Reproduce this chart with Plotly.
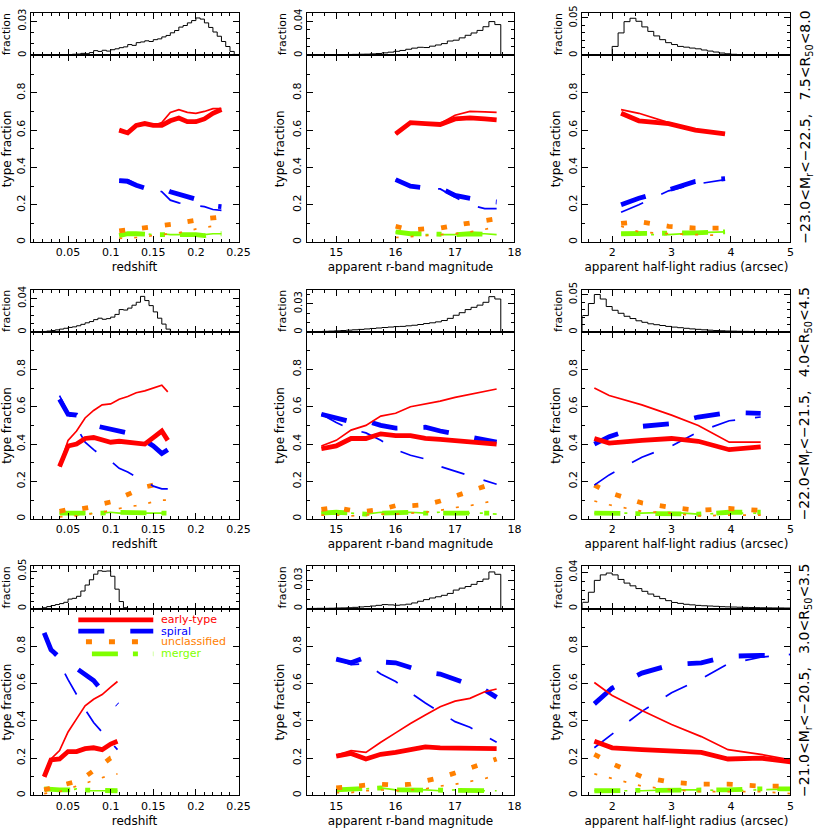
import plotly.graph_objects as go

W, H = 830, 831
FONT = "DejaVu Sans"

# ---------------- histogram data (fraction per bin) ----------------
# redshift histograms: start edge, bin width, values
hz1_lo, hz1_w = 0.040, 0.005
hz1 = [0.0003, 0.0005, 0.0008, 0.0010, 0.0012, 0.0018, 0.0015, 0.0025, 0.0042, 0.0035,
       0.0045, 0.0038, 0.0050, 0.0058, 0.0068, 0.0075, 0.0095, 0.0088, 0.0112, 0.0118,
       0.0128, 0.0122, 0.0138, 0.0145, 0.0162, 0.0175, 0.0198, 0.0218, 0.0248, 0.0262,
       0.0285, 0.0305, 0.0328, 0.0318, 0.0285, 0.0245, 0.0205, 0.0168, 0.0122, 0.0078,
       0.0035, 0.0008]
hz2_lo, hz2_w = 0.010, 0.005
hz2 = [0.0001, 0.0003, 0.0007, 0.0012, 0.0018, 0.0026, 0.0035, 0.0045, 0.0055, 0.0062,
       0.0075, 0.0092, 0.0110, 0.0125, 0.0148, 0.0165, 0.0152, 0.0160, 0.0178, 0.0210,
       0.0268, 0.0262, 0.0285, 0.0320, 0.0355, 0.0425, 0.0375, 0.0315, 0.0240, 0.0165,
       0.0095, 0.0035, 0.0005]
hz3_lo, hz3_w = 0.015, 0.005
hz3 = [0.0003, 0.0012, 0.0028, 0.0042, 0.0055, 0.0068, 0.0085, 0.0128, 0.0138, 0.0165,
       0.0235, 0.0315, 0.0385, 0.0460, 0.0505, 0.0498, 0.0502, 0.0432, 0.0260, 0.0095,
       0.0012]

# magnitude histograms
hm_lo, hm_w = 14.47, 0.1
hm1 = [0.0003, 0.0004, 0.0005, 0.0006, 0.0007, 0.0008, 0.0010, 0.0011, 0.0012, 0.0014,
       0.0015, 0.0018, 0.0022, 0.0030, 0.0038, 0.0048, 0.0058, 0.0072, 0.0085, 0.0095,
       0.0092, 0.0108, 0.0122, 0.0138, 0.0168, 0.0178, 0.0205, 0.0235, 0.0262, 0.0292,
       0.0335, 0.0395, 0.0360]
hm2 = [0.0003, 0.0004, 0.0006, 0.0008, 0.0010, 0.0013, 0.0016, 0.0020, 0.0024, 0.0028,
       0.0033, 0.0038, 0.0043, 0.0048, 0.0053, 0.0058, 0.0060, 0.0066, 0.0072, 0.0080,
       0.0090, 0.0098, 0.0108, 0.0122, 0.0145, 0.0178, 0.0205, 0.0238, 0.0262, 0.0285,
       0.0315, 0.0375, 0.0350]
hm3 = [0.0002, 0.0003, 0.0004, 0.0004, 0.0005, 0.0007, 0.0008, 0.0010, 0.0014, 0.0018,
       0.0022, 0.0028, 0.0035, 0.0043, 0.0040, 0.0036, 0.0040, 0.0047, 0.0060, 0.0078,
       0.0095, 0.0112, 0.0125, 0.0140, 0.0160, 0.0195, 0.0215, 0.0232, 0.0255, 0.0285,
       0.0310, 0.0385, 0.0360]

# half-light radius histograms
hr_lo, hr_w = 1.5, 0.1
hr1 = [0, 0, 0, 0, 0, 0.0120, 0.0300, 0.0450, 0.0495, 0.0455, 0.0380, 0.0320, 0.0260,
       0.0210, 0.0170, 0.0145, 0.0120, 0.0110, 0.0098, 0.0088, 0.0072, 0.0058, 0.0045,
       0.0032, 0.0022, 0.0015, 0.0012, 0.0010, 0.0008, 0.0007, 0.0006, 0.0005, 0.0005,
       0.0004, 0.0004]
hr2 = [0.0220, 0.0380, 0.0500, 0.0440, 0.0340, 0.0290, 0.0250, 0.0210, 0.0180, 0.0150,
       0.0130, 0.0110, 0.0098, 0.0087, 0.0075, 0.0066, 0.0058, 0.0050, 0.0042, 0.0036,
       0.0030, 0.0025, 0.0020, 0.0017, 0.0014, 0.0012, 0.0010, 0.0009, 0.0008, 0.0007,
       0.0006, 0.0005, 0.0005, 0.0004, 0.0004]
hr3 = [0.0070, 0.0180, 0.0310, 0.0370, 0.0390, 0.0370, 0.0320, 0.0280, 0.0250, 0.0220,
       0.0190, 0.0160, 0.0135, 0.0110, 0.0088, 0.0068, 0.0058, 0.0048, 0.0042, 0.0036,
       0.0032, 0.0029, 0.0026, 0.0022, 0.0020, 0.0018, 0.0016, 0.0014, 0.0012, 0.0011,
       0.0010, 0.0009, 0.0008, 0.0008, 0.0007]

# ---------------- type-fraction curves ----------------
r1c1_x = [0.11, 0.12, 0.13, 0.14, 0.15, 0.16, 0.17, 0.18, 0.19, 0.20, 0.21, 0.22, 0.23]
r1c1_early_thick = [0.600, 0.585, 0.625, 0.635, 0.625, 0.625, 0.650, 0.665, 0.645, 0.645, 0.660, 0.690, 0.710]
r1c1_early_thin = [0.600, 0.590, 0.620, 0.635, 0.625, 0.640, 0.695, 0.710, 0.695, 0.690, 0.700, 0.715, 0.715]
r1c1_spiral_thick = [0.330, 0.325, 0.305, 0.290, 0.295, 0.290, 0.270, 0.255, 0.245, 0.230, 0.225, 0.195, 0.190]
r1c1_spiral_thin = [0.335, 0.335, 0.310, 0.290, 0.290, 0.270, 0.225, 0.210, 0.200, 0.195, 0.190, 0.175, 0.170]
r1c1_unc_thick = [0.060, 0.065, 0.070, 0.075, 0.080, 0.085, 0.090, 0.100, 0.110, 0.120, 0.125, 0.130, 0.135]
r1c1_unc_thin = [0.020, 0.022, 0.025, 0.030, 0.035, 0.040, 0.045, 0.050, 0.060, 0.070, 0.080, 0.085, 0.085]
r1c1_mer_thick = [0.035, 0.045, 0.045, 0.040, 0.040, 0.040, 0.040, 0.040, 0.045, 0.040, 0.035, 0.045, 0.045]
r1c1_mer_thin = [0.035, 0.050, 0.045, 0.045, 0.040, 0.045, 0.040, 0.040, 0.045, 0.045, 0.040, 0.045, 0.045]

r1c2_x = [16.0, 16.25, 16.5, 16.75, 17.0, 17.25, 17.5, 17.7]
r1c2_early_thick = [0.58, 0.64, 0.635, 0.63, 0.66, 0.665, 0.66, 0.655]
r1c2_early_thin = [0.58, 0.64, 0.635, 0.635, 0.68, 0.70, 0.698, 0.695]
r1c2_spiral_thick = [0.335, 0.30, 0.29, 0.29, 0.25, 0.235, 0.22, 0.215]
r1c2_spiral_thin = [0.335, 0.30, 0.29, 0.285, 0.24, 0.20, 0.18, 0.18]
r1c2_unc_thick = [0.085, 0.065, 0.072, 0.075, 0.09, 0.105, 0.115, 0.125]
r1c2_unc_thin = [0.025, 0.03, 0.035, 0.04, 0.045, 0.055, 0.07, 0.08]
r1c2_mer_thick = [0.055, 0.045, 0.045, 0.04, 0.04, 0.045, 0.045, 0.04]
r1c2_mer_thin = [0.055, 0.045, 0.04, 0.04, 0.04, 0.045, 0.045, 0.04]

r1c3_x = [2.15, 2.45, 2.95, 3.4, 3.9]
r1c3_early_thick = [0.69, 0.65, 0.635, 0.60, 0.58]
r1c3_early_thin = [0.71, 0.69, 0.64, 0.60, 0.58]
r1c3_spiral_thick = [0.20, 0.235, 0.28, 0.325, 0.34]
r1c3_spiral_thin = [0.16, 0.20, 0.275, 0.31, 0.335]
r1c3_unc_thick = [0.10, 0.11, 0.085, 0.075, 0.075]
r1c3_unc_thin = [0.085, 0.055, 0.045, 0.04, 0.035]
r1c3_mer_thick = [0.045, 0.045, 0.045, 0.05, 0.055]
r1c3_mer_thin = [0.045, 0.04, 0.04, 0.05, 0.055]

r2c1_x = [0.04, 0.05, 0.06, 0.07, 0.08, 0.09, 0.10, 0.11, 0.12, 0.13, 0.14, 0.15, 0.16, 0.167]
r2c1_early_thick = [0.28, 0.39, 0.40, 0.43, 0.435, 0.425, 0.41, 0.415, 0.41, 0.41, 0.40, 0.435, 0.47, 0.42]
r2c1_early_thin = [0.28, 0.42, 0.47, 0.54, 0.58, 0.61, 0.615, 0.64, 0.655, 0.675, 0.685, 0.70, 0.715, 0.68]
r2c1_spiral_thick = [0.64, 0.56, 0.555, 0.52, 0.50, 0.49, 0.485, 0.47, 0.46, 0.435, 0.42, 0.39, 0.35, 0.37]
r2c1_spiral_thin = [0.66, 0.57, 0.49, 0.41, 0.37, 0.335, 0.31, 0.27, 0.25, 0.225, 0.205, 0.175, 0.16, 0.16]
r2c1_unc_thick = [0.04, 0.05, 0.05, 0.055, 0.065, 0.08, 0.09, 0.11, 0.13, 0.145, 0.17, 0.18, 0.19, 0.20]
r2c1_unc_thin = [0.01, 0.015, 0.015, 0.02, 0.03, 0.035, 0.045, 0.055, 0.065, 0.07, 0.08, 0.09, 0.10, 0.10]
r2c1_mer_thick = [0.03, 0.03, 0.025, 0.03, 0.03, 0.03, 0.035, 0.035, 0.03, 0.03, 0.03, 0.03, 0.03, 0.03]
r2c1_mer_thin = [0.03, 0.03, 0.02, 0.025, 0.03, 0.03, 0.035, 0.03, 0.03, 0.025, 0.03, 0.03, 0.03, 0.03]

r2c2_x = [14.75, 15.0, 15.25, 15.5, 15.75, 16.0, 16.25, 16.5, 16.75, 17.0, 17.25, 17.5, 17.7]
r2c2_early_thick = [0.375, 0.39, 0.43, 0.43, 0.455, 0.445, 0.445, 0.43, 0.425, 0.42, 0.41, 0.405, 0.40]
r2c2_early_thin = [0.39, 0.42, 0.475, 0.50, 0.55, 0.565, 0.60, 0.615, 0.63, 0.65, 0.665, 0.68, 0.695]
r2c2_spiral_thick = [0.56, 0.54, 0.52, 0.525, 0.50, 0.485, 0.487, 0.49, 0.47, 0.455, 0.44, 0.425, 0.41]
r2c2_spiral_thin = [0.56, 0.515, 0.48, 0.46, 0.42, 0.37, 0.34, 0.32, 0.28, 0.255, 0.23, 0.205, 0.185]
r2c2_unc_thick = [0.05, 0.06, 0.045, 0.04, 0.05, 0.07, 0.07, 0.075, 0.095, 0.12, 0.145, 0.17, 0.195]
r2c2_unc_thin = [0.02, 0.02, 0.015, 0.02, 0.025, 0.025, 0.03, 0.035, 0.045, 0.06, 0.07, 0.085, 0.10]
r2c2_mer_thick = [0.03, 0.035, 0.03, 0.025, 0.03, 0.035, 0.035, 0.03, 0.03, 0.035, 0.03, 0.03, 0.03]
r2c2_mer_thin = [0.03, 0.04, 0.03, 0.025, 0.035, 0.03, 0.035, 0.03, 0.035, 0.03, 0.03, 0.03, 0.025]

r2c3_x = [1.7, 1.95, 2.5, 3.0, 3.45, 3.97, 4.5]
r2c3_early_thick = [0.43, 0.405, 0.42, 0.43, 0.415, 0.37, 0.385]
r2c3_early_thin = [0.70, 0.66, 0.61, 0.555, 0.50, 0.41, 0.41]
r2c3_spiral_thick = [0.40, 0.44, 0.495, 0.51, 0.545, 0.57, 0.565]
r2c3_spiral_thin = [0.18, 0.235, 0.33, 0.39, 0.465, 0.525, 0.545]
r2c3_unc_thick = [0.18, 0.14, 0.085, 0.06, 0.045, 0.055, 0.045]
r2c3_unc_thin = [0.095, 0.075, 0.04, 0.03, 0.015, 0.02, 0.02]
r2c3_mer_thick = [0.03, 0.03, 0.03, 0.03, 0.025, 0.035, 0.035]
r2c3_mer_thin = [0.03, 0.03, 0.03, 0.035, 0.025, 0.03, 0.03]

r3c1_x = [0.022, 0.03, 0.04, 0.05, 0.06, 0.07, 0.08, 0.09, 0.10, 0.108]
r3c1_early_thick = [0.10, 0.19, 0.195, 0.235, 0.235, 0.25, 0.255, 0.245, 0.275, 0.29]
r3c1_early_thin = [0.10, 0.195, 0.24, 0.34, 0.41, 0.48, 0.515, 0.54, 0.58, 0.61]
r3c1_spiral_thick = [0.87, 0.78, 0.74, 0.705, 0.68, 0.65, 0.615, 0.56, 0.515, 0.485]
r3c1_spiral_thin = [0.86, 0.78, 0.71, 0.62, 0.54, 0.46, 0.39, 0.34, 0.29, 0.245]
r3c1_unc_thick = [0.03, 0.04, 0.05, 0.06, 0.075, 0.10, 0.13, 0.165, 0.20, 0.21]
r3c1_unc_thin = [0.01, 0.015, 0.02, 0.035, 0.05, 0.065, 0.08, 0.095, 0.11, 0.115]
r3c1_mer_thick = [0.035, 0.03, 0.03, 0.03, 0.03, 0.025, 0.025, 0.025, 0.025, 0.025]
r3c1_mer_thin = [0.035, 0.035, 0.03, 0.025, 0.035, 0.025, 0.025, 0.025, 0.025, 0.025]

r3c2_x = [15.0, 15.25, 15.5, 15.75, 16.0, 16.25, 16.5, 16.75, 17.0, 17.25, 17.5, 17.7]
r3c2_early_thick = [0.21, 0.225, 0.195, 0.22, 0.23, 0.245, 0.26, 0.255, 0.255, 0.25, 0.25, 0.25]
r3c2_early_thin = [0.215, 0.24, 0.23, 0.285, 0.335, 0.385, 0.43, 0.475, 0.505, 0.52, 0.555, 0.57]
r3c2_spiral_thick = [0.73, 0.71, 0.74, 0.715, 0.71, 0.685, 0.66, 0.65, 0.62, 0.59, 0.565, 0.525]
r3c2_spiral_thin = [0.73, 0.70, 0.705, 0.65, 0.61, 0.55, 0.495, 0.445, 0.395, 0.365, 0.32, 0.285]
r3c2_unc_thick = [0.04, 0.05, 0.055, 0.06, 0.055, 0.06, 0.075, 0.095, 0.12, 0.145, 0.17, 0.195]
r3c2_unc_thin = [0.015, 0.015, 0.025, 0.03, 0.025, 0.03, 0.035, 0.05, 0.06, 0.075, 0.09, 0.11]
r3c2_mer_thick = [0.03, 0.035, 0.035, 0.04, 0.03, 0.03, 0.03, 0.03, 0.03, 0.025, 0.025, 0.025]
r3c2_mer_thin = [0.03, 0.03, 0.035, 0.04, 0.03, 0.025, 0.03, 0.025, 0.03, 0.025, 0.025, 0.025]

r3c3_x = [1.7, 2.0, 2.5, 3.0, 3.5, 3.95, 4.5, 5.0]
r3c3_early_thick = [0.29, 0.255, 0.245, 0.235, 0.23, 0.195, 0.20, 0.18]
r3c3_early_thin = [0.605, 0.535, 0.455, 0.38, 0.315, 0.245, 0.22, 0.19]
r3c3_spiral_thick = [0.49, 0.575, 0.655, 0.70, 0.71, 0.745, 0.75, 0.75]
r3c3_spiral_thin = [0.255, 0.33, 0.45, 0.55, 0.625, 0.705, 0.74, 0.755]
r3c3_unc_thick = [0.22, 0.17, 0.10, 0.07, 0.06, 0.06, 0.05, 0.05]
r3c3_unc_thin = [0.115, 0.09, 0.05, 0.03, 0.02, 0.02, 0.02, 0.01]
r3c3_mer_thick = [0.025, 0.025, 0.025, 0.03, 0.03, 0.03, 0.035, 0.035]
r3c3_mer_thin = [0.025, 0.025, 0.025, 0.03, 0.03, 0.025, 0.03, 0.035]

# ---------------- labels / axes ----------------
x_titles = ["redshift", "apparent r-band magnitude", "apparent half-light radius (arcsec)"]
x_ranges = [[0.006, 0.25], [14.5, 18.0], [1.5, 5.0]]
x_tickvals = [[0.05, 0.1, 0.15, 0.2, 0.25], [15, 16, 17, 18], [2, 3, 4, 5]]
x_ticktext = [["0.05", "0.1", "0.15", "0.2", "0.25"], ["15", "16", "17", "18"], ["2", "3", "4", "5"]]
x_minor = [0.01, 0.2, 0.2]
hist_ymax = [[0.0372, 0.0496, 0.0566], [0.0506, 0.045, 0.0566], [0.0566, 0.0445, 0.0465]]
hist_ytick = [[0.03, 0.04, 0.05], [0.04, 0.03, 0.05], [0.05, 0.03, 0.04]]
row_labels = ["−23.0&lt;M<sub>r</sub>&lt;−22.5,   7.5&lt;R<sub>50</sub>&lt;8.0",
              "−22.0&lt;M<sub>r</sub>&lt;−21.5,   4.0&lt;R<sub>50</sub>&lt;4.5",
              "−21.0&lt;M<sub>r</sub>&lt;−20.5,   3.0&lt;R<sub>50</sub>&lt;3.5"]
legend_names = ["early-type", "spiral", "unclassified", "merger"]

COL = {"early": "#ff0000", "spiral": "#0000ff", "unc": "#ff8000", "mer": "#7fff00"}
DASH_THICK = {"early": "solid", "spiral": "26px,26px", "unc": "6px,17px", "mer": "26px,15px,5px,15px"}
DASH_THIN = {"early": "solid", "spiral": "24px,20px", "unc": "3px,12px", "mer": "20px,10px,3px,10px"}
W_THICK, W_THIN = 4.8, 1.7

g = globals()
hists = [[(hz1_lo, hz1_w, hz1), (hm_lo, hm_w, hm1), (hr_lo, hr_w, hr1)],
         [(hz2_lo, hz2_w, hz2), (hm_lo, hm_w, hm2), (hr_lo, hr_w, hr2)],
         [(hz3_lo, hz3_w, hz3), (hm_lo, hm_w, hm3), (hr_lo, hr_w, hr3)]]

# pixel layout
cols_px = [(31, 242), (311, 522), (591, 802)]
row_top = [5, 285, 565]
HIST_H, MAIN_H = 43, 189

fig = go.Figure()
layout = dict(width=W, height=H, margin=dict(l=0, r=0, t=0, b=0), autosize=False,
              plot_bgcolor="white", paper_bgcolor="white", showlegend=False,
              font=dict(family=FONT, color="black", size=11))

def axname(kind, n):
    return kind + "axis" + ("" if n == 1 else str(n))

def ref(kind, n):
    return kind + ("" if n == 1 else str(n))

def base_axis():
    return dict(showline=True, linecolor="black", linewidth=1, mirror="allticks",
                ticks="inside", ticklen=6, tickcolor="black", tickwidth=1,
                showgrid=False, zeroline=False, fixedrange=True,
                tickfont=dict(family=FONT, size=11, color="black"))

annotations = []
shapes = []
n = 0
for r in range(3):
    for c in range(3):
        hn = 2 * n + 1
        mn = 2 * n + 2
        l, rr = cols_px[c]
        xd = [l / W, rr / W]
        t = row_top[r]
        hd = [1 - (t + HIST_H) / H, 1 - t / H]
        md = [1 - (t + HIST_H + MAIN_H) / H, 1 - (t + HIST_H) / H]

        # histogram axes
        hx = base_axis()
        hx.update(domain=xd, range=x_ranges[c], anchor=ref("y", hn), tickvals=x_tickvals[c],
                  showticklabels=False,
                  minor=dict(ticks="inside", ticklen=3, tickcolor="black", dtick=x_minor[c],
                             tick0=0, showgrid=False))
        hy = base_axis()
        hy.update(domain=hd, range=[0, hist_ymax[r][c]], anchor=ref("x", hn),
                  tickvals=[0, hist_ytick[r][c]], ticktext=["0", str(hist_ytick[r][c])],
                  tickangle=-90, tickfont=dict(family=FONT, size=10, color="black"),
                  minor=dict(ticks="inside", ticklen=3, tickcolor="black", dtick=0.01,
                             tick0=0, showgrid=False),
                  title=dict(text="fraction", font=dict(family=FONT, size=11), standoff=3))
        layout[axname("x", hn)] = hx
        layout[axname("y", hn)] = hy

        # main axes
        mx = base_axis()
        mx.update(domain=xd, range=x_ranges[c], anchor=ref("y", mn), tickvals=x_tickvals[c],
                  ticktext=x_ticktext[c],
                  minor=dict(ticks="inside", ticklen=3, tickcolor="black", dtick=x_minor[c],
                             tick0=0, showgrid=False),
                  title=dict(text=x_titles[c], font=dict(family=FONT, size=12), standoff=4))
        my = base_axis()
        my.update(domain=md, range=[0, 1], anchor=ref("x", mn),
                  tickvals=[0, 0.2, 0.4, 0.6, 0.8, 1.0], ticktext=["0", "0.2", "0.4", "0.6", "0.8", ""],
                  tickangle=-90,
                  minor=dict(ticks="inside", ticklen=3, tickcolor="black", dtick=0.1,
                             tick0=0, showgrid=False),
                  title=dict(text="type fraction", font=dict(family=FONT, size=12), standoff=3))
        layout[axname("x", mn)] = mx
        layout[axname("y", mn)] = my

        # histogram trace
        lo, w, vals = hists[r][c]
        edges = [lo + i * w for i in range(len(vals) + 1)]
        hxs = [edges[0]] + edges
        hys = [0] + list(vals) + [0]
        fig.add_trace(go.Scatter(x=hxs, y=hys, mode="lines", line=dict(color="black", width=1, shape="hv"),
                                 xaxis=ref("x", hn), yaxis=ref("y", hn), hoverinfo="skip"))

        # type-fraction curves
        key = f"r{r+1}c{c+1}"
        xs = g[key + "_x"]
        for typ in ["mer", "unc", "spiral", "early"]:
            for thick in (False, True):
                ys = g[f"{key}_{typ}_{'thick' if thick else 'thin'}"]
                fig.add_trace(go.Scatter(
                    x=xs, y=ys, mode="lines",
                    line=dict(color=COL[typ], width=W_THICK if thick else W_THIN,
                              dash=DASH_THICK[typ] if thick else DASH_THIN[typ]),
                    xaxis=ref("x", mn), yaxis=ref("y", mn), hoverinfo="skip"))

        # legend in bottom-left panel
        if r == 2 and c == 0:
            leg_y = [0.94, 0.88, 0.823, 0.758]
            leg_x0 = [0.062, 0.062, 0.071, 0.078]
            for k, typ in enumerate(["early", "spiral", "unc", "mer"]):
                shapes.append(dict(type="line", xref=ref("x", mn), yref=ref("y", mn),
                                   x0=leg_x0[k], x1=0.150, y0=leg_y[k], y1=leg_y[k],
                                   line=dict(color=COL[typ], width=W_THICK, dash=DASH_THICK[typ])))
                annotations.append(dict(xref=ref("x", mn), yref=ref("y", mn), x=0.157, y=leg_y[k],
                                        text=legend_names[k], showarrow=False, xanchor="left",
                                        yanchor="middle", height=11,
                                        font=dict(family=FONT, size=11, color=COL[typ])))
        n += 1

    # row label on the right
    yc = 1 - (row_top[r] + (HIST_H + MAIN_H) / 2) / H
    annotations.append(dict(xref="paper", yref="paper", x=817 / W, y=yc, text=row_labels[r],
                            textangle=-90, showarrow=False, xanchor="center", yanchor="middle",
                            font=dict(family=FONT, size=14, color="black")))

layout["annotations"] = annotations
layout["shapes"] = shapes
fig.update_layout(**layout)
fig.write_html("out.html", config={"displayModeBar": False},
               post_script="document.body.style.margin='0';document.body.style.overflow='hidden';")
